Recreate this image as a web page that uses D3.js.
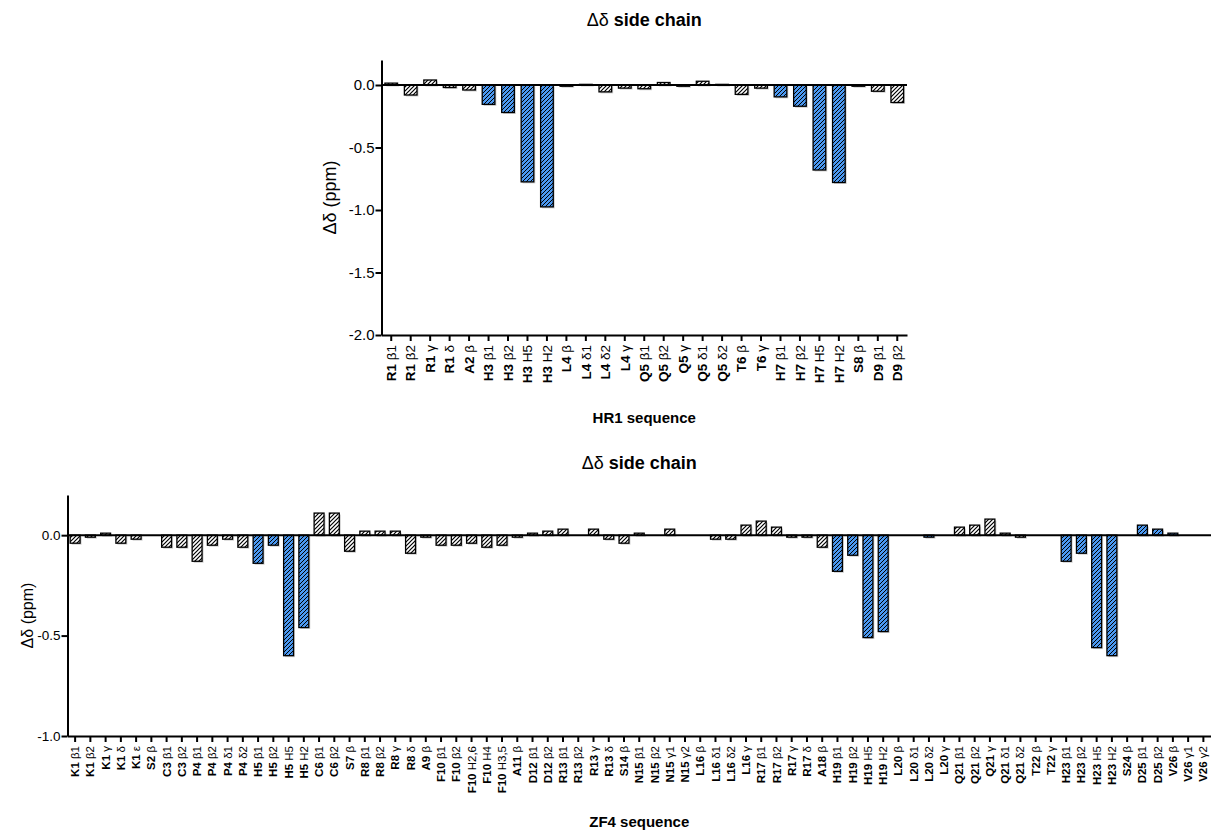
<!DOCTYPE html>
<html>
<head>
<meta charset="utf-8">
<script src="https://cdn.jsdelivr.net/npm/d3@7"></script>
<style>
  body { margin: 0; background: #fff; }
  svg { display: block; }
  text { font-family: "Liberation Sans", Arial, sans-serif; fill: #000; }
</style>
</head>
<body>
<div id="chart"></div>
<script>
// HR1 panel
const hr1Labels = ["R1 β1", "R1 β2", "R1 γ", "R1 δ", "A2 β", "H3 β1", "H3 β2", "H3 H5", "H3 H2",
  "L4 β", "L4 δ1", "L4 δ2", "L4 γ", "Q5 β1", "Q5 β2", "Q5 γ", "Q5 δ1", "Q5 δ2", "T6 β", "T6 γ",
  "H7 β1", "H7 β2", "H7 H5", "H7 H2", "S8 β", "D9 β1", "D9 β2"];
const hr1Values = [0.015, -0.08, 0.04, -0.02, -0.04, -0.155, -0.22, -0.775, -0.975,
  -0.01, 0.005, -0.055, -0.025, -0.03, 0.02, -0.01, 0.03, 0.005, -0.075, -0.025,
  -0.095, -0.17, -0.68, -0.78, -0.01, -0.05, -0.14];
const hr1Blue = ["H3 β1", "H3 β2", "H3 H5", "H3 H2", "H7 β1", "H7 β2", "H7 H5", "H7 H2"];
const hr1Ticks = [0, -0.5, -1.0, -1.5, -2.0];

// ZF4 panel
const zf4Labels = ["K1 β1", "K1 β2", "K1 γ", "K1 δ", "K1 ε", "S2 β", "C3 β1", "C3 β2",
  "P4 β1", "P4 β2", "P4 δ1", "P4 δ2", "H5 β1", "H5 β2", "H5 H5", "H5 H2", "C6 β1", "C6 β2",
  "S7 β", "R8 β1", "R8 β2", "R8 γ", "R8 δ", "A9 β", "F10 β1", "F10 β2", "F10 H2,6", "F10 H4",
  "F10 H3,5", "A11 β", "D12 β1", "D12 β2", "R13 β1", "R13 β2", "R13 γ", "R13 δ", "S14 β",
  "N15 β1", "N15 β2", "N15 γ1", "N15 γ2", "L16 β", "L16 δ1", "L16 δ2", "L16 γ", "R17 β1",
  "R17 β2", "R17 γ", "R17 δ", "A18 β", "H19 β1", "H19 β2", "H19 H5", "H19 H2", "L20 β",
  "L20 δ1", "L20 δ2", "L20 γ", "Q21 β1", "Q21 β2", "Q21 γ", "Q21 δ1", "Q21 δ2", "T22 β",
  "T22 γ", "H23 β1", "H23 β2", "H23 H5", "H23 H2", "S24 β", "D25 β1", "D25 β2", "V26 β",
  "V26 γ1", "V26 γ2"];
const zf4Values = [-0.04, -0.01, 0.01, -0.04, -0.02, 0, -0.06, -0.06,
  -0.13, -0.05, -0.02, -0.06, -0.14, -0.05, -0.60, -0.46, 0.11, 0.11,
  -0.08, 0.02, 0.02, 0.02, -0.09, -0.01, -0.05, -0.05, -0.04, -0.06,
  -0.05, -0.01, 0.01, 0.02, 0.03, 0, 0.03, -0.02, -0.04,
  0.01, 0, 0.03, 0, 0, -0.02, -0.02, 0.05, 0.07,
  0.04, -0.01, -0.01, -0.06, -0.18, -0.10, -0.51, -0.48, 0,
  0, -0.01, 0, 0.04, 0.05, 0.08, 0.01, -0.01, 0,
  0, -0.13, -0.09, -0.56, -0.60, 0, 0.05, 0.03, 0.01,
  0, 0];
const zf4Blue = ["H5 β1", "H5 β2", "H5 H5", "H5 H2", "H19 β1", "H19 β2", "H19 H5", "H19 H2",
  "H23 β1", "H23 β2", "H23 H5", "H23 H2", "L20 δ2", "D25 β1", "D25 β2", "V26 β"];
const zf4Ticks = [0, -0.5, -1.0];

const width = 1211, height = 833;
const blueFill = "#4b98f0";

const svg = d3.select("#chart").append("svg")
  .attr("width", width)
  .attr("height", height);

// hatch patterns
const defs = svg.append("defs");
function hatch(id, bg, size, sw) {
  const p = defs.append("pattern")
    .attr("id", id)
    .attr("patternUnits", "userSpaceOnUse")
    .attr("width", size).attr("height", size);
  p.append("rect").attr("width", size).attr("height", size).attr("fill", bg);
  p.append("path")
    .attr("d", `M-1,1 l2,-2 M0,${size} l${size},-${size} M${size - 1},${size + 1} l2,-2`)
    .attr("stroke", "#000")
    .attr("stroke-width", sw);
}
hatch("hatchWhite", "#fff", 4, 1.2);
hatch("hatchBlue", blueFill, 4, 1.0);

function drawPanel(cfg) {
  const g = svg.append("g");

  const x = d3.scaleBand()
    .domain(cfg.labels)
    .range([cfg.left, cfg.right])
    .paddingInner(0.35)
    .paddingOuter(0.175);

  const y = d3.scaleLinear()
    .domain(cfg.domain)
    .range([cfg.bottom, cfg.top]);

  const data = cfg.labels.map((d, i) => ({ label: d, value: cfg.values[i], blue: cfg.blue.includes(d) }))
    .filter(d => d.value !== 0);

  // shadow behind bars
  g.append("g").selectAll("rect")
    .data(data)
    .join("rect")
    .attr("x", d => x(d.label) + 1.5)
    .attr("y", d => Math.min(y(d.value), y(0)) + 1.5)
    .attr("width", x.bandwidth())
    .attr("height", d => Math.abs(y(d.value) - y(0)))
    .attr("fill", "#cfcfcf");

  g.append("g").selectAll("rect")
    .data(data)
    .join("rect")
    .attr("x", d => x(d.label))
    .attr("y", d => Math.min(y(d.value), y(0)))
    .attr("width", x.bandwidth())
    .attr("height", d => Math.abs(y(d.value) - y(0)))
    .attr("fill", d => d.blue ? "url(#hatchBlue)" : "url(#hatchWhite)")
    .attr("stroke", "#000")
    .attr("stroke-width", 1.3);

  // zero line
  g.append("line")
    .attr("x1", cfg.left).attr("x2", cfg.right)
    .attr("y1", y(0)).attr("y2", y(0))
    .attr("stroke", "#000")
    .attr("stroke-width", 2);

  // y axis
  const yAxis = g.append("g")
    .attr("transform", `translate(${cfg.left},0)`)
    .call(d3.axisLeft(y).tickValues(cfg.ticks).tickFormat(d => d.toFixed(1)).tickSize(6).tickSizeOuter(0));
  yAxis.select(".domain").attr("stroke-width", 2);
  yAxis.selectAll(".tick line").attr("stroke-width", 2);
  yAxis.selectAll(".tick text")
    .attr("x", -7)
    .style("font-size", cfg.yTickSize + "px")
    .style("font-family", "'Liberation Sans', Arial, sans-serif");

  // x axis
  const xAxis = g.append("g")
    .attr("transform", `translate(0,${cfg.bottom})`)
    .call(d3.axisBottom(x).tickSize(6).tickSizeOuter(0).tickFormat(""));
  xAxis.select(".domain").attr("stroke-width", 2);
  xAxis.selectAll(".tick line").attr("stroke-width", 2);

  // rotated tick labels, residue bold + atom normal
  const lab = g.append("g").selectAll("text")
    .data(cfg.labels)
    .join("text")
    .attr("transform", d => `translate(${x(d) + x.bandwidth() / 2},${cfg.bottom + 10}) rotate(-90)`)
    .attr("text-anchor", "end")
    .attr("dy", "0.35em")
    .style("font-size", cfg.xTickSize + "px");
  lab.append("tspan")
    .style("font-weight", "bold")
    .text(d => d.split(" ")[0]);
  lab.append("tspan")
    .text(d => "\u00a0" + d.split(" ").slice(1).join(" "));

  // title
  const t = g.append("text")
    .attr("x", (cfg.left + cfg.right) / 2)
    .attr("y", cfg.titleY)
    .attr("text-anchor", "middle")
    .style("font-size", cfg.titleSize + "px");
  t.append("tspan").text("Δδ ");
  t.append("tspan").style("font-weight", "bold").text("side chain");

  // x title
  g.append("text")
    .attr("x", (cfg.left + cfg.right) / 2)
    .attr("y", cfg.xTitleY)
    .attr("text-anchor", "middle")
    .style("font-size", cfg.xTitleSize + "px")
    .style("font-weight", "bold")
    .text(cfg.xTitle);

  // y title
  g.append("text")
    .attr("transform", `translate(${cfg.yTitleX},${(cfg.top + cfg.bottom) / 2}) rotate(-90)`)
    .attr("text-anchor", "middle")
    .style("font-size", cfg.yTitleSize + "px")
    .text("Δδ (ppm)");
}

drawPanel({
  labels: hr1Labels, values: hr1Values, blue: hr1Blue, ticks: hr1Ticks,
  domain: [-2.0, 0.2],
  left: 381.5, right: 907, top: 60, bottom: 335,
  yTickSize: 15, xTickSize: 13.5, titleSize: 18, xTitleSize: 15, yTitleSize: 18,
  titleY: 26, xTitleY: 423, yTitleX: 336,
  xTitle: "HR1 sequence"
});

drawPanel({
  labels: zf4Labels, values: zf4Values, blue: zf4Blue, ticks: zf4Ticks,
  domain: [-1.0, 0.2],
  left: 67.5, right: 1211, top: 495, bottom: 736,
  yTickSize: 13.5, xTickSize: 11.5, titleSize: 18, xTitleSize: 15, yTitleSize: 16,
  titleY: 469, xTitleY: 827, yTitleX: 33,
  xTitle: "ZF4 sequence"
});
</script>
</body>
</html>
